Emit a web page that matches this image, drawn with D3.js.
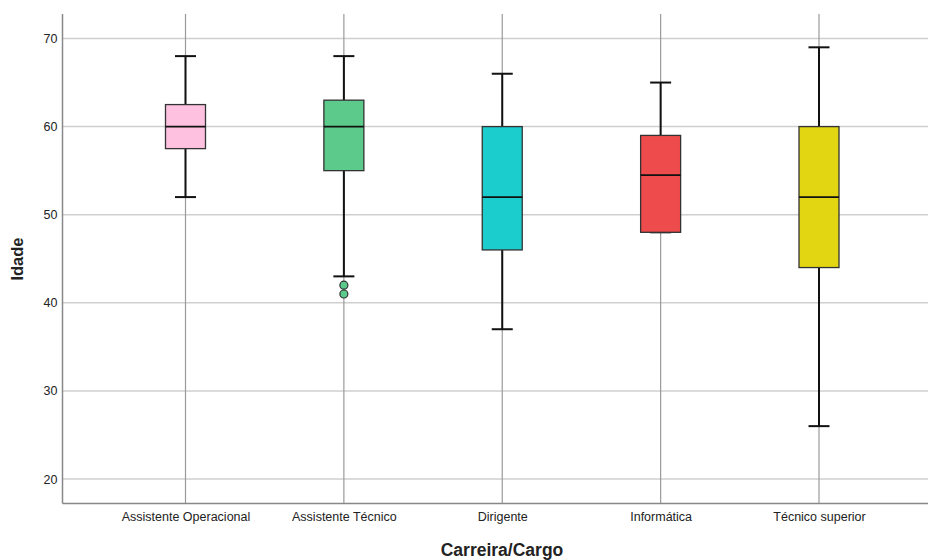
<!DOCTYPE html>
<html><head><meta charset="utf-8">
<script src="https://cdn.jsdelivr.net/npm/d3@7"></script>
<style>body{margin:0;background:#fff}svg{display:block;font-family:"Liberation Sans",Arial,sans-serif}</style>
</head><body><svg id="c" width="928" height="560"></svg>
<script>
const categories = ["Assistente Operacional","Assistente Técnico","Dirigente","Informática","Técnico superior"];
const colors = ["#FFC1E0","#5BCA8A","#1CCDCD","#EE4C4C","#E2D511"];
const whiskerLow = [52,43,37,48,26];
const q1 = [57.5,55,46,48,44];
const median = [60,60,52,54.5,52];
const q3 = [62.5,63,60,59,60];
const whiskerHigh = [68,68,66,65,69];
const outliers = [[],[42,41],[],[],[]];
const yTicks = [20,30,40,50,60,70];

(function(){
const svg = d3.select("#c");
const pLeft = 62.5, pRight = 928, pTop = 14, pBottom = 503.5;
const y = d3.scaleLinear().domain([20,70]).range([479,38.5]);
const x = d3.scalePoint().domain(categories).range([185.5,819]);

svg.append("g").selectAll("line").data(yTicks).join("line")
  .attr("x1",pLeft).attr("x2",pRight).attr("y1",d=>y(d)).attr("y2",d=>y(d))
  .attr("stroke","#cfcfcf").attr("stroke-width",1.5);
svg.append("g").selectAll("line").data(categories).join("line")
  .attr("x1",d=>x(d)).attr("x2",d=>x(d)).attr("y1",pTop).attr("y2",pBottom)
  .attr("stroke","#9a9a9a").attr("stroke-width",1.2);

svg.append("line").attr("x1",pLeft).attr("x2",pLeft).attr("y1",pTop).attr("y2",pBottom).attr("stroke","#888").attr("stroke-width",1.5);
svg.append("line").attr("x1",pLeft).attr("x2",pRight).attr("y1",pBottom).attr("y2",pBottom).attr("stroke","#888").attr("stroke-width",1.5);

const yAxis = d3.axisLeft(y).tickValues(yTicks).tickSize(0).tickPadding(5);
const ga = svg.append("g").attr("transform",`translate(${pLeft},0)`).call(yAxis);
ga.select(".domain").remove();
ga.selectAll("text").attr("font-size",12.5).attr("fill","#222").attr("font-family","Liberation Sans, Arial, sans-serif");

const xAxis = d3.axisBottom(x).tickSize(0).tickPadding(9);
const gx = svg.append("g").attr("transform",`translate(0,${pBottom})`).call(xAxis);
gx.select(".domain").remove();
gx.selectAll("text").attr("font-size",12.5).attr("fill","#222").attr("font-family","Liberation Sans, Arial, sans-serif");

const bw = 40, cw = 21;
categories.forEach((c,i)=>{
  const cx = x(c);
  const g = svg.append("g");
  g.append("line").attr("x1",cx).attr("x2",cx).attr("y1",y(whiskerHigh[i])).attr("y2",y(q3[i])).attr("stroke","#111").attr("stroke-width",2);
  g.append("line").attr("x1",cx).attr("x2",cx).attr("y1",y(q1[i])).attr("y2",y(whiskerLow[i])).attr("stroke","#111").attr("stroke-width",2);
  g.append("line").attr("x1",cx-cw/2).attr("x2",cx+cw/2).attr("y1",y(whiskerHigh[i])).attr("y2",y(whiskerHigh[i])).attr("stroke","#111").attr("stroke-width",2);
  g.append("line").attr("x1",cx-cw/2).attr("x2",cx+cw/2).attr("y1",y(whiskerLow[i])).attr("y2",y(whiskerLow[i])).attr("stroke","#111").attr("stroke-width",2);
  g.append("rect").attr("x",cx-bw/2).attr("y",y(q3[i])).attr("width",bw).attr("height",y(q1[i])-y(q3[i]))
    .attr("fill",colors[i]).attr("stroke","#333").attr("stroke-width",1.3);
  g.append("line").attr("x1",cx-bw/2).attr("x2",cx+bw/2).attr("y1",y(median[i])).attr("y2",y(median[i])).attr("stroke","#111").attr("stroke-width",1.8);
  g.selectAll("circle").data(outliers[i]).join("circle")
    .attr("cx",cx).attr("cy",d=>y(d)).attr("r",4).attr("fill",colors[i]).attr("stroke","#333").attr("stroke-width",1.2);
});

svg.append("text").attr("x",502).attr("y",556).attr("text-anchor","middle").attr("font-size",17.5).attr("font-weight","bold").attr("fill","#222").text("Carreira/Cargo");
svg.append("text").attr("transform","translate(23,259) rotate(-90)").attr("text-anchor","middle").attr("font-size",16.5).attr("font-weight","bold").attr("fill","#222").text("Idade");
})();
</script></body></html>
